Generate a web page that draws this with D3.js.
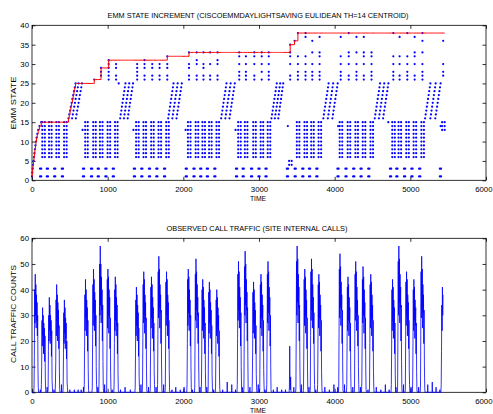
<!DOCTYPE html>
<html>
<head>
<meta charset="utf-8">
<script src="https://cdn.jsdelivr.net/npm/d3@7"></script>
<style>
body { margin: 0; background: #fff; }
svg { display: block; font-family: Arial, "Liberation Sans", sans-serif; }
.tick text { font-size: 7.8px; fill: #000; }
.tick line { stroke: #000; stroke-width: 0.8; }
.lbl { font-size: 7.5px; fill: #000; }
</style>
</head>
<body>
<div id="fig"></div>
<script>
// weekday centres (time of each daily traffic burst)
var dayT = [53,150,239,336,438, 717,823,912,1013,1111, 1390,1487,1589,1686,1788,
            2075,2177,2266,2354,2452, 2739,2827,2938,3036,3129, 3412,3514,3615,3704,3801,
            4080,4186,4288,4385,4487, 4775,4858,4960,5057,5160, 5434];

// first day : states 1..15 created one after the other
var rampT = [0,4,9,14,20,26,32,38,45,52,60,70,82,98,122];
var rampS = [1,2,3,4,5,6,7,8,9,10,11,12,13,14,15];

// day states (morning + evening pass) lowest / highest per weekday, 0 = none
var midLo = [0,6,6,6,6, 6,6,6,6,6, 6,6,6,6,6, 6,6,6,6,6, 6,6,6,6,6, 4,6,6,6,6, 6,6,6,6,6, 6,6,6,6,6, 13];
var midHi = [0,15,15,15,15, 15,15,15,15,15, 15,15,15,15,15, 15,15,15,15,15, 15,15,15,15,15, 5,15,15,15,15, 15,15,15,15,15, 15,15,15,15,15, 15];
var midOffsets = [-14, 20];

// night states, a little before each weekday
var lowStates = [1, 3];
var lowOffsets = [-44, -28];

// peak-hour states per weekday
var upperStates = [
  [],[],[],[],[],
  [],[26],[27,28,29],[26,27,28,29,30,31],[26,27,29,30],
  [26,27,28,29,30],[26,27,29,30,31],[26,27,29,30],[26,27,29,30],[26,27,29,30,32],
  [26,27,29,30,33],[26,27,30,31,33],[26,27,29,30,33],[26,27,30,33],[26,27,30,31,33],
  [26,27,28,30,32,33],[26,27,28,30,32],[26,27,30,32,33],[26,28,30,32,33],[26,27,28,30,32,33],
  [26,27,30,32,33,35],[26,27,28,30,32,38],[26,27,28,30,32,37,38],[26,27,28,30,33,36],[26,27,28,30,32,33,37],
  [26,27,28,30,32,37],[26,27,30,32,33,38],[26,27,28,30,33,37],[26,27,30,32,33,37],[26,27,28,30,32,33],
  [26,27,28,30,32,38],[26,27,30,32,37],[26,27,28,30,32,38],[26,27,30,32,33,37],[26,27,28,30,33,36,38],
  [27,28,30,36]
];

// weekend passes through states 16..25 : [time at 16, time at 25]
var weekendRuns = [
  [482,575],[530,615],[580,660],
  [1165,1235],[1215,1285],[1265,1335],
  [1800,1870],[1855,1925],[1910,1980],
  [2500,2570],[2555,2625],[2610,2680],
  [3165,3235],[3210,3280],[3255,3320],
  [3850,3920],[3910,3980],[3970,4040],
  [4530,4600],[4585,4655],[4640,4710],
  [5195,5265],[5265,5335],[5330,5400]
];
var weekendStates = [16,17,18,19,20,21,22,23,24,25];

var extraDots = [[668,13],[1340,13],[2030,13],[2690,13],[3381,14],[4045,14],[4709,15],[5400,14],[3470,36],[1146,25]];

// call traffic : samples every 4 time units around each weekday
var burstStep = 4, burstOffset = -30;
var bursts = [
  [0,2,14,40,27,46,30,42,25,38,28,35,22,30,9,2,0],
  [0,3,10,28,18,33,22,30,15,27,20,25,12,22,6,1,0],
  [0,1,16,30,20,37,24,34,19,30,22,28,14,24,5,2,0],
  [0,4,12,36,22,42,28,38,20,35,25,32,17,26,8,1,0],
  [0,2,15,31,19,36,23,33,17,29,21,27,13,20,4,2,0],
  [0,3,18,38,24,44,29,40,22,36,27,33,16,28,9,1,0],
  [0,2,20,42,26,48,31,44,24,39,28,36,18,30,10,3,0],
  [0,4,22,50,30,57,34,50,27,45,32,40,20,34,12,2,0],
  [0,1,17,44,25,48,30,45,23,40,29,37,17,29,8,2,0],
  [0,3,19,40,24,45,28,42,22,37,26,34,15,27,7,1,0],
  [0,2,15,36,22,41,26,38,20,34,25,31,14,25,6,2,0],
  [0,4,21,42,27,47,30,44,23,38,28,35,17,29,9,1,0],
  [0,1,18,41,25,45,29,42,21,37,27,33,16,27,8,3,0],
  [0,3,23,47,29,53,33,48,25,42,31,38,19,32,11,2,0],
  [0,2,20,43,26,47,30,44,22,38,28,35,17,28,9,1,0],
  [0,3,19,44,26,48,31,45,24,40,29,36,18,30,10,2,0],
  [0,2,22,46,28,52,32,47,25,42,30,37,19,31,11,3,0],
  [0,4,18,40,24,44,28,41,21,36,26,33,15,27,8,1,0],
  [0,1,17,39,23,43,27,40,21,35,26,32,15,26,7,2,0],
  [0,2,16,36,22,40,26,37,19,33,24,30,14,24,6,1,0],
  [0,3,21,46,28,51,32,47,25,41,30,37,18,31,10,2,0],
  [0,2,23,49,30,55,34,50,27,44,32,39,20,33,12,1,0],
  [0,4,17,39,23,43,27,40,21,35,26,32,15,26,7,2,0],
  [0,1,19,42,25,46,29,43,22,38,28,34,16,28,9,3,0],
  [0,3,21,46,27,51,31,47,24,41,30,37,18,30,10,1,0],
  [0,0,0,0,0,2,18,4,1,6,0],
  [0,2,24,51,30,57,35,52,27,46,33,41,20,34,12,2,0],
  [0,4,20,44,26,48,30,45,23,40,29,36,17,29,9,1,0],
  [0,1,22,47,28,52,32,48,25,42,31,37,19,31,11,3,0],
  [0,3,18,42,25,46,29,43,22,38,28,34,16,28,8,2,0],
  [0,2,23,48,29,54,33,49,26,43,32,38,19,32,11,1,0],
  [0,3,18,41,24,45,28,42,22,37,27,33,16,27,8,2,0],
  [0,1,21,46,28,51,31,47,24,41,30,36,18,30,10,3,0],
  [0,4,20,44,27,49,30,45,23,40,29,35,17,29,9,1,0],
  [0,2,19,42,25,46,29,43,22,38,28,34,16,28,8,2,0],
  [0,3,18,40,24,44,28,41,21,36,26,33,15,27,7,1,0],
  [0,2,24,51,30,57,35,52,27,46,33,41,20,34,12,2,0],
  [0,1,20,43,26,47,30,44,22,38,28,35,17,28,9,3,0],
  [0,4,18,40,24,44,28,41,21,36,26,33,15,27,8,1,0],
  [0,2,22,47,29,53,33,48,25,42,31,38,19,32,11,2,0],
  [0,3,16,34,24,41,30,38]
];
// small night / weekend calls [time, count]
var blips = [[110,1],[200,2],[290,1],[390,3],[500,1],[560,1],[610,1],[650,1],[680,2],[870,2],[960,3],[1060,1],
  [1170,1],[1230,2],[1300,1],[1440,3],[1540,2],[1640,2],[1740,3],[1850,1],[1900,2],[1960,1],[2010,2],
  [2120,1],[2220,2],[2310,2],[2400,1],[2520,1],[2580,4],[2640,3],[2690,1],[2780,2],[2880,2],[2990,3],
  [3080,1],[3190,1],[3240,2],[3300,1],[3350,1],[3460,2],[3560,3],[3660,2],[3750,1],[3870,2],[3930,1],
  [3990,3],[4040,2],[4130,3],[4240,2],[4340,2],[4440,1],[4550,2],[4610,1],[4670,3],[4720,1],[4810,2],
  [4910,3],[5010,2],[5110,2],[5230,3],[5290,4],[5340,2],[5390,1]];

var xTicks = [0,1000,2000,3000,4000,5000,6000];
var stateTicks = [0,5,10,15,20,25,30,35,40];
var countTicks = [0,10,20,30,40,50,60];

// ---- build marks ----
var dots = [];
rampT.forEach(function(t, i) { dots.push([t, rampS[i]]); });
dayT.forEach(function(t, i) {
    if (midLo[i] > 0) {
        midOffsets.forEach(function(o) {
            for (var s = midLo[i]; s <= midHi[i]; s++) dots.push([t + o, s]);
        });
        lowOffsets.forEach(function(o) {
            lowStates.forEach(function(s) { dots.push([t + o, s]); });
        });
    }
    upperStates[i].forEach(function(s) { dots.push([t, s]); });
});
weekendRuns.forEach(function(r) {
    weekendStates.forEach(function(s, k) {
        dots.push([r[0] + (r[1] - r[0]) * k / (weekendStates.length - 1), s]);
    });
});
extraDots.forEach(function(d) { dots.push(d); });

// running maximum of the state (red line)
var sorted = dots.slice().sort(function(a, b) { return a[0] - b[0] || a[1] - b[1]; });
var maxState = [], m = 0;
sorted.forEach(function(d) { m = Math.max(m, d[1]); maxState.push([d[0], m]); });

var traffic = [[0, 0]];
dayT.forEach(function(t, i) {
    bursts[i].forEach(function(v, k) { traffic.push([t + burstOffset + k * burstStep, v]); });
});
blips.forEach(function(b) { traffic.push([b[0] - 2, 0], [b[0], b[1]], [b[0] + 2, 0]); });
traffic.sort(function(a, b) { return a[0] - b[0]; });

// ---- drawing ----
var svg = d3.select("#fig").append("svg")
    .attr("width", 493)
    .attr("height", 414);

var x = d3.scaleLinear().domain([0, 6000]).range([32, 486]);
var yTop = d3.scaleLinear().domain([0, 40]).range([180.3, 25.3]);
var yBot = d3.scaleLinear().domain([0, 60]).range([392.3, 238.3]);

function frame(y, yTickVals) {
    var y0 = y.range()[0], y1 = y.range()[1];
    var g = svg.append("g");
    var xa = g.append("g").attr("transform", "translate(0," + y0 + ")")
        .call(d3.axisBottom(x).tickValues(xTicks).tickSize(-3.5).tickPadding(6).tickFormat(d3.format("d")));
    // last label kept inside the window
    xa.selectAll(".tick text").filter(function(d) { return d === 6000; })
        .attr("text-anchor", "end").attr("x", 6);
    g.append("g").attr("transform", "translate(0," + y1 + ")")
        .call(d3.axisTop(x).tickValues(xTicks).tickSize(-3.5).tickFormat(""));
    g.append("g").attr("transform", "translate(32,0)")
        .call(d3.axisLeft(y).tickValues(yTickVals).tickSize(-3.5).tickPadding(3));
    g.append("g").attr("transform", "translate(486,0)")
        .call(d3.axisRight(y).tickValues(yTickVals).tickSize(-3.5).tickFormat(""));
    g.selectAll(".domain").remove();
    g.append("rect")
        .attr("x", 32).attr("y", y1)
        .attr("width", 454).attr("height", y0 - y1)
        .attr("fill", "none").attr("stroke", "#000").attr("stroke-width", 0.8);
}

function label(txt, px, py, len, rot) {
    var t = svg.append("text")
        .attr("class", "lbl")
        .attr("text-anchor", "middle")
        .attr("textLength", len)
        .attr("lengthAdjust", "spacingAndGlyphs")
        .text(txt);
    if (rot) t.attr("transform", "translate(" + px + "," + py + ") rotate(-90)");
    else t.attr("x", px).attr("y", py);
}

// top : EMM state
frame(yTop, stateTicks);
svg.append("g").selectAll("circle")
    .data(dots)
    .enter().append("circle")
        .attr("cx", function(d) { return x(d[0]); })
        .attr("cy", function(d) { return yTop(d[1]); })
        .attr("r", 1.1)
        .attr("fill", "#0000ff");
svg.append("path")
    .datum(maxState)
    .attr("fill", "none")
    .attr("stroke", "#ff0000")
    .attr("stroke-width", 1)
    .attr("d", d3.line().curve(d3.curveStepAfter)
        .x(function(d) { return x(d[0]); })
        .y(function(d) { return yTop(d[1]); }));

// bottom : call traffic
frame(yBot, countTicks);
svg.append("path")
    .datum(traffic)
    .attr("fill", "none")
    .attr("stroke", "#0000ff")
    .attr("stroke-width", 0.8)
    .attr("d", d3.line()
        .x(function(d) { return x(d[0]); })
        .y(function(d) { return yBot(d[1]); }));

label("EMM STATE INCREMENT (CISCOEMMDAYLIGHTSAVING EULIDEAN TH=14 CENTROID)", 258, 18, 301);
label("TIME", 258, 201, 16);
label("EMM STATE", 16, 103, 53, true);
label("OBSERVED CALL TRAFFIC (SITE INTERNAL CALLS)", 257, 231, 181);
label("TIME", 258, 413, 16);
label("CALL TRAFFIC COUNTS", 16, 314, 98, true);
</script>
</body>
</html>
